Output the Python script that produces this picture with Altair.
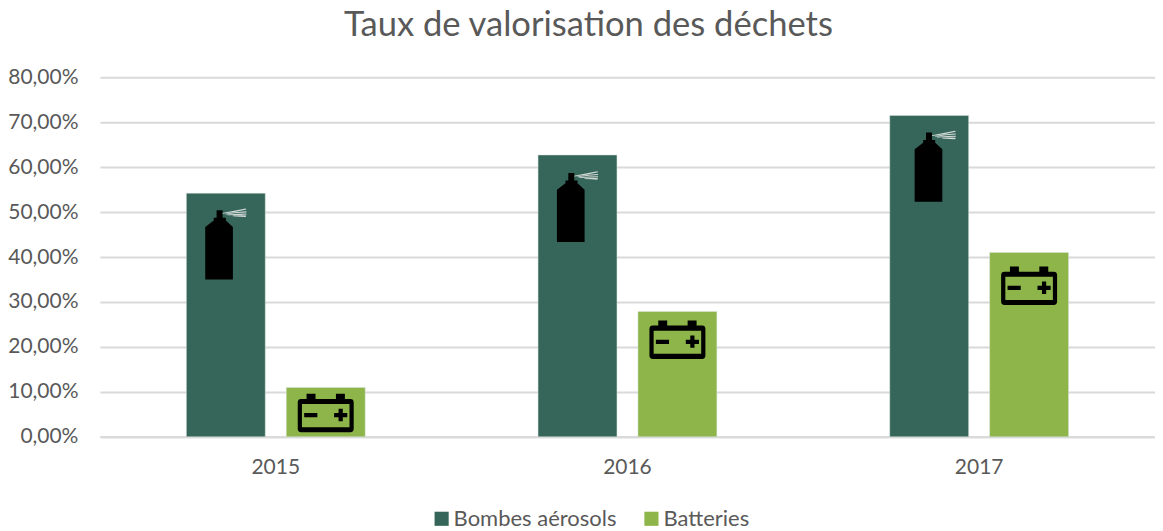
import altair as alt
import pandas as pd

years = ["2015", "2016", "2017"]
series = ["Bombes aérosols", "Batteries"]
aerosols = [54.2, 62.7, 71.5]
batteries = [11.0, 27.9, 41.0]
can_centre = [42.9, 51.2, 60.2]
battery_centre = [5.3, 21.6, 33.6]
y_ticks = [0, 10, 20, 30, 40, 50, 60, 70, 80]
colors = ["#36665A", "#8DB54A"]
GREY = "#595959"
FONT = "Lato"

bars = pd.DataFrame(
    [{"year": y, "series": series[0], "value": v} for y, v in zip(years, aerosols)]
    + [{"year": y, "series": series[1], "value": v} for y, v in zip(years, batteries)]
)
cans = pd.DataFrame({"year": years[:2], "series": series[0], "value": can_centre[:2]})
last_can = pd.DataFrame({"year": years[2:], "series": series[0], "value": can_centre[2:]})
packs = pd.DataFrame({"year": years, "series": series[1], "value": battery_centre})

CAN_PTS = [[(-0.58, 1), (-0.58, -0.48), (-0.34, -0.66), (-0.34, -0.74), (-0.26, -0.74), (-0.26, -0.95),
            (-0.09, -0.95), (-0.09, -0.74), (0, -0.74), (0, -0.66), (0.2, -0.48), (0.2, 1)]]
MIST_PTS = [
    [(-0.09, -0.87), (0.2, -0.93), (0.56, -1), (0.58, -0.97), (0.25, -0.9), (-0.09, -0.85)],
    [(0, -0.85), (0.3, -0.9), (0.58, -0.92), (0.58, -0.89), (0.3, -0.87), (0, -0.83)],
    [(0.05, -0.83), (0.35, -0.85), (0.58, -0.86), (0.58, -0.83), (0.4, -0.82), (0.05, -0.81)],
    [(0.2, -0.8), (0.45, -0.81), (0.58, -0.8), (0.56, -0.76), (0.4, -0.77), (0.2, -0.78)],
]


def path(polys, shift=0.0):
    parts = []
    for poly in polys:
        parts.append("M" + " L".join(f"{px + shift:.3f},{py:.3f}" for px, py in poly) + " Z")
    return " ".join(parts)


BATTERY = (
    "M-0.685,-0.505 L-0.685,-0.685 L-0.365,-0.685 L-0.365,-0.505 L0.365,-0.505 L0.365,-0.685 "
    "L0.685,-0.685 L0.685,-0.505 L0.88,-0.505 Q1,-0.505 1,-0.385 L1,0.565 Q1,0.685 0.88,0.685 "
    "L-0.88,0.685 Q-1,0.685 -1,0.565 L-1,-0.385 Q-1,-0.505 -0.88,-0.505 Z "
    "M-0.85,-0.325 L-0.85,0.505 L0.85,0.505 L0.85,-0.325 Z "
    "M-0.77,0 L-0.3,0 L-0.3,0.15 L-0.77,0.15 Z "
    "M0.3,0 L0.46,0 L0.46,-0.15 L0.61,-0.15 L0.61,0 L0.77,0 L0.77,0.15 L0.61,0.15 L0.61,0.29 "
    "L0.46,0.29 L0.46,0.15 L0.3,0.15 Z"
)

x = alt.X(
    "year:N",
    title=None,
    scale=alt.Scale(paddingInner=0, paddingOuter=0),
    axis=alt.Axis(
        labelAngle=0, labelFont=FONT, labelFontSize=21, labelColor=GREY, labelPadding=20,
        ticks=False, domainColor="#D9D9D9", domainWidth=2, grid=False,
    ),
)
x_off = alt.XOffset(
    "series:N", sort=series, scale=alt.Scale(domain=series, paddingInner=0.21, paddingOuter=0.865)
)
y = alt.Y(
    "value:Q",
    title=None,
    scale=alt.Scale(domain=[0, 80]),
    axis=alt.Axis(
        values=y_ticks,
        labelExpr="replace(format(datum.value, '.2f'), '.', ',') + '%'",
        labelFont=FONT, labelFontSize=21, labelColor=GREY, labelPadding=22,
        ticks=False, domain=False, grid=True, gridColor="#D9D9D9", gridWidth=2,
    ),
)

bar_layer = alt.Chart(bars).mark_bar(stroke="#DDE6E0", strokeWidth=0.5).encode(
    x=x, xOffset=x_off, y=y,
    color=alt.Color(
        "series:N", sort=series, title=None,
        scale=alt.Scale(domain=series, range=colors),
        legend=alt.Legend(
            orient="none", legendX=331, legendY=431, direction="horizontal", columns=2,
            symbolType="square", symbolSize=200, symbolStrokeWidth=0,
            labelFont=FONT, labelFontSize=22, labelColor=GREY, labelOffset=1, columnPadding=23,
            labelLimit=400,
        ),
    ),
)


def icon(data, shape, size, fill):
    return alt.Chart(data).mark_point(
        shape=shape, size=size, filled=True, fill=fill, opacity=1, strokeWidth=0
    ).encode(x=x, xOffset=x_off, y=y)


chart = (
    alt.layer(
        bar_layer,
        icon(cans, path(CAN_PTS), 5041, "#000000"),
        icon(cans, path(MIST_PTS), 5041, "#D3DAD7"),
        icon(last_can, path(CAN_PTS, 0.17), 5041, "#000000"),
        icon(last_can, path(MIST_PTS, 0.17), 5041, "#D3DAD7"),
        icon(packs, BATTERY, 3136, "#000000"),
    )
    .properties(
        width=1056,
        height=360,
        padding={"left": 92, "top": 69, "right": 0, "bottom": 90},
        autosize=alt.AutoSizeParams(type="none"),
        title=alt.TitleParams(
            "Taux de valorisation des déchets",
            font=FONT, fontSize=34.6, fontWeight="normal", color=GREY,
            anchor="middle", dx=-39, offset=23,
        ),
    )
    .configure_view(stroke=None)
)

chart.save("out.html", embed_options={"renderer": "svg", "actions": False})
